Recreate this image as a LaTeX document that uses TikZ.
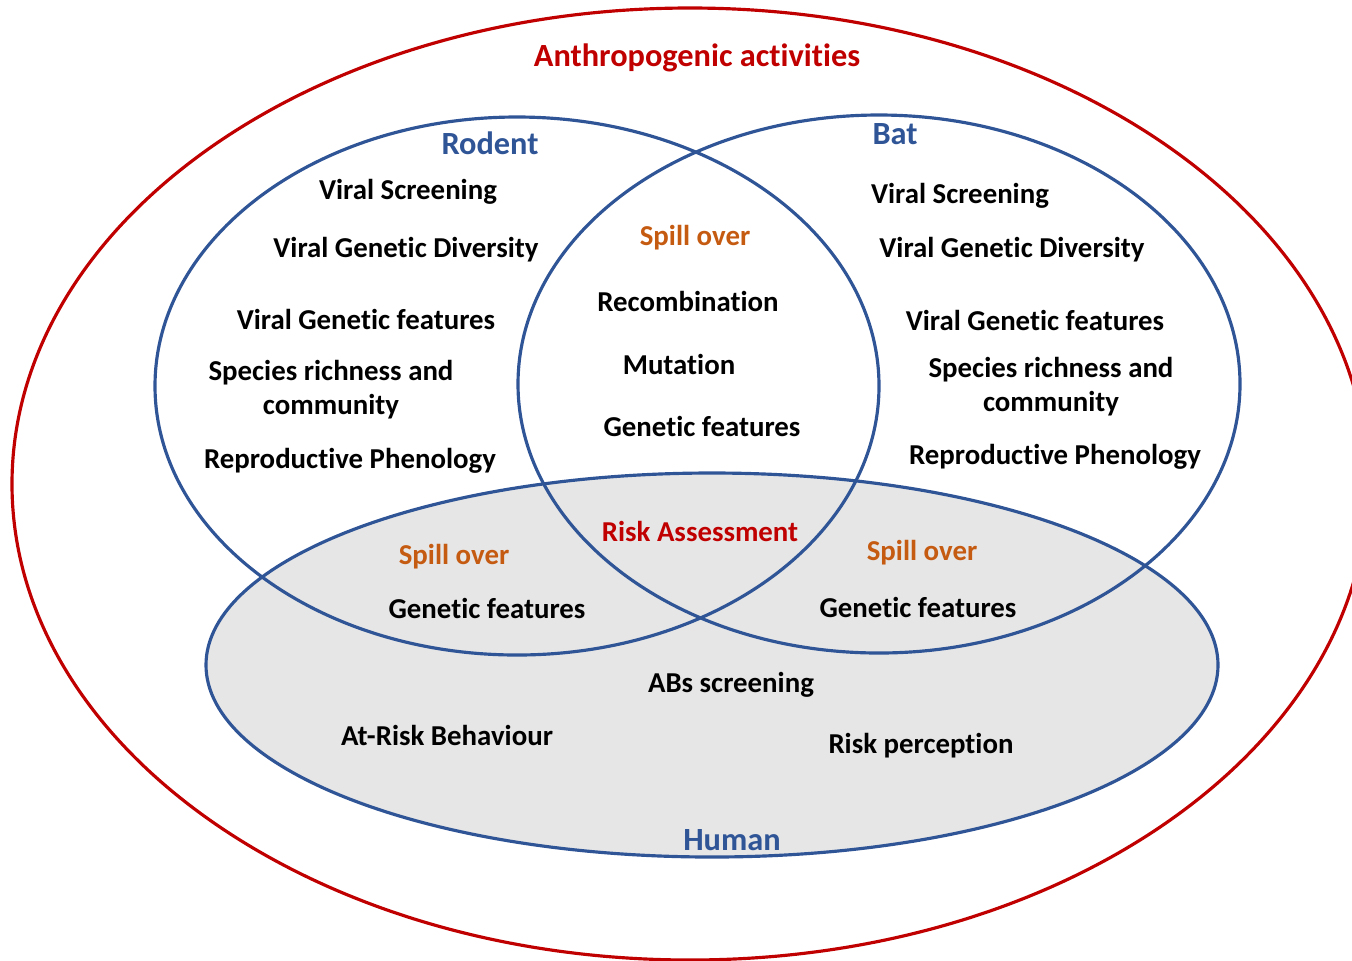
\documentclass[tikz,border=0pt]{standalone}
\usepackage{fontspec}
\setmainfont{Carlito}[Ligatures=NoCommon]
\usetikzlibrary{positioning}
\definecolor{anthro-red}{RGB}{192, 0, 0}
\definecolor{host-blue}{RGB}{47, 85, 151}
\definecolor{spill-orange}{RGB}{197, 90, 17}
\definecolor{human-grey}{RGB}{230, 230, 230}
\tikzset{
  item/.style={font=\fontsize{8.2}{9.7}\selectfont\bfseries, align=center, inner sep=0pt},
  spill/.style={item, text=spill-orange},
  host/.style={item, text=host-blue, font=\fontsize{9.2}{11}\selectfont\bfseries},
}

\begin{document}
\begin{tikzpicture}[x=0.01cm, y=-0.01cm, line width=0.9pt]
\clip (0,0) rectangle (1352,960);
\draw[anthro-red] (690,484) ellipse [x radius=678, y radius=476];
\filldraw[fill=human-grey, draw=host-blue] (712,665) ellipse [x radius=506, y radius=192];
\draw[host-blue] (517,386) ellipse [x radius=362, y radius=269];
\draw[host-blue] (879,384) ellipse [x radius=361, y radius=269];

\node[item, text=anthro-red, font=\fontsize{9.2}{11}\selectfont\bfseries] (anthro) at (697,58) {Anthropogenic activities};
\node[host] (rodent) at (490,143) {Rodent};
\node[host] (bat) at (895,134) {Bat};
\node[host] (human) at (732,840) {Human};

% rodent
\node[item] (r-screen) at (408,192) {Viral Screening};
\node[item] (r-div) at (406,250) {Viral Genetic Diversity};
\node[item] (r-feat) at (366,319) {Viral Genetic features};
\node[item] (r-rich) at (331,390) {Species richness and\\community};
\node[item] (r-pheno) at (350,461) {Reproductive Phenology};

% bat
\node[item] (b-screen) at (960,196) {Viral Screening};
\node[item] (b-div) at (1012,250) {Viral Genetic Diversity};
\node[item] (b-feat) at (1035,320) {Viral Genetic features};
\node[item] (b-rich) at (1051,387) {Species richness and\\community};
\node[item] (b-pheno) at (1055,457) {Reproductive Phenology};

% rodent and bat
\node[spill] (rb-spill) at (695,238) {Spill over};
\node[item] (rb-recomb) at (688,301) {Recombination};
\node[item] (rb-mut) at (679,364) {Mutation};
\node[item] (rb-feat) at (702,426) {Genetic features};

% human
\node[item, text=anthro-red] (risk) at (700,531) {Risk Assessment};
\node[spill] (rh-spill) at (454,557) {Spill over};
\node[item] (rh-feat) at (487,608) {Genetic features};
\node[spill] (bh-spill) at (922,553) {Spill over};
\node[item] (bh-feat) at (918,607) {Genetic features};
\node[item] (h-abs) at (731,685) {ABs screening};
\node[item] (h-behav) at (447,735) {At-Risk Behaviour};
\node[item] (h-percep) at (921,746) {Risk perception};
\end{tikzpicture}
\end{document}
